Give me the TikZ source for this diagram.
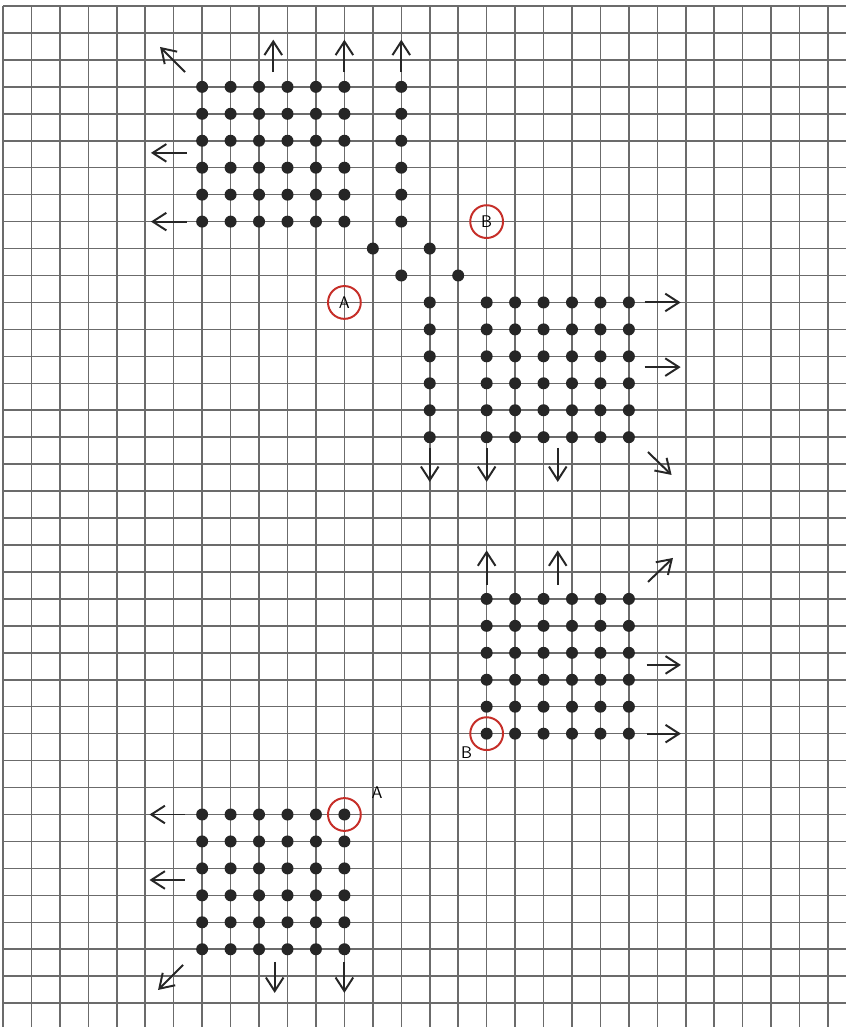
\documentclass[tikz,border=0pt]{standalone}
\usetikzlibrary{arrows.meta}
\definecolor{ringred}{RGB}{198,46,40}
\begin{document}
\begin{tikzpicture}[x=0.71125cm,y=-0.67375cm,>={Straight Barb[length=3.4mm,width=4.4mm]},
  gridline/.style={draw=black!58,line width=1.1pt},
  dot/.style={circle,fill=black!85,inner sep=0pt,minimum size=3mm},
  ring/.style={circle,draw=ringred,line width=1.4pt,minimum size=8.2mm,inner sep=0pt,font=\sffamily\large},
  tag/.style={font=\sffamily\large,inner sep=1pt},
  move/.style={->,draw=black!85,line width=1.4pt}]
\useasboundingbox[fill=white] (-0.1054,-0.2226) rectangle (29.631,37.885);
\foreach \i in {0,...,37} \draw[gridline] (0,\i) -- (29.631,\i);
\foreach \j in {0,...,29} \draw[gridline] (\j,0) -- (\j,37.885);
\foreach \j in {7,...,12} \foreach \i in {3,...,8} \node[dot] at (\j,\i) {};
\foreach \i in {3,...,8} \node[dot] at (14,\i) {};
\node[dot] at (13,9) {};
\node[dot] at (15,9) {};
\node[dot] at (14,10) {};
\node[dot] at (16,10) {};
\foreach \i in {11,...,16} \node[dot] at (15,\i) {};
\foreach \j in {17,...,22} \foreach \i in {11,...,16} \node[dot] at (\j,\i) {};
\foreach \j in {17,...,22} \foreach \i in {22,...,27} \node[dot] at (\j,\i) {};
\foreach \j in {7,...,12} \foreach \i in {30,...,35} \node[dot] at (\j,\i) {};
\node[ring] (ringA) at (12,11) {A};
\node[ring] (ringB) at (17,8) {B};
\node[ring] (ringB2) at (17,27) {};
\node[tag] (tagB) at (16.3,27.72) {B};
\node[ring] (ringA2) at (12,30) {};
\node[tag] (tagA) at (13.15,29.2) {A};
\draw[move] (6.4,2.45) -- (5.52,1.52);
\foreach \j in {9.5,12,14} \draw[move] (\j,2.45) -- (\j,1.25);
\foreach \i in {5.45,8} \draw[move] (6.45,\i) -- (5.2,\i);
\foreach \i in {11,13.4} \draw[move] (22.55,\i) -- (23.82,\i);
\foreach \j in {15,17,19.5} \draw[move] (\j,16.4) -- (\j,17.66);
\draw[move] (22.67,16.55) -- (23.5,17.4);
\foreach \j in {17,19.5} \draw[move] (\j,21.48) -- (\j,20.2);
\draw[move] (22.67,21.37) -- (23.55,20.48);
\foreach \i in {24.45,27} \draw[move] (22.62,\i) -- (23.83,\i);
\foreach \i in {30,32.43} \draw[move] (6.38,\i) -- (5.15,\i);
\draw[move] (6.33,35.58) -- (5.45,36.51);
\foreach \j in {9.55,12} \draw[move] (\j,35.47) -- (\j,36.62);
\end{tikzpicture}
\end{document}
